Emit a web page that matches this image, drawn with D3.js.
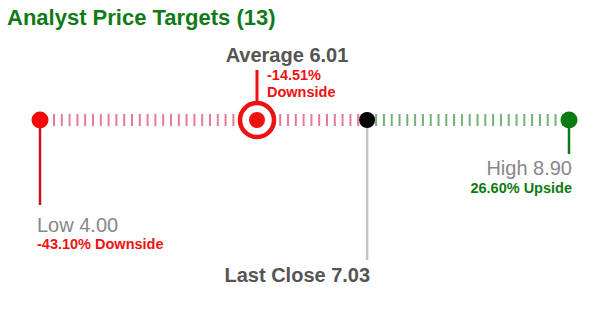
<!DOCTYPE html>
<html>
<head>
<meta charset="utf-8">
<script src="https://cdn.jsdelivr.net/npm/d3@7"></script>
<style>
  body { margin: 0; background: #fff; }
  svg { font-family: "Liberation Sans", Arial, sans-serif; }
</style>
</head>
<body>
<svg width="594" height="316"></svg>
<script>
// price target data
const analystCount = 13;
const targetNames = ["Low", "Average", "High"];
const targetValues = [4.00, 6.01, 8.90];
const targetChange = ["-43.10% Downside", "-14.51% Downside", "26.60% Upside"];
const lastClose = 7.03;

const svg = d3.select("svg");
const lineY = 120;

// x scale spans low -> high target
const x = d3.scaleLinear()
    .domain([targetValues[0], targetValues[2]])
    .range([40, 569]);

const lowX = x(targetValues[0]);
const avgX = x(targetValues[1]);
const highX = x(targetValues[2]);
const closeX = x(lastClose);

// title
svg.append("text")
    .attr("x", 7).attr("y", 25)
    .attr("fill", "#0f7a16")
    .style("font-size", "22px").style("font-weight", "bold")
    .text(`Analyst Price Targets (${analystCount})`);

// dashed tick segments
svg.append("line")
    .attr("x1", lowX + 13).attr("x2", closeX - 6)
    .attr("y1", lineY).attr("y2", lineY)
    .attr("stroke", "#e4587a").attr("stroke-opacity", 0.8)
    .attr("stroke-width", 12)
    .attr("stroke-dasharray", "2,5.8");

svg.append("line")
    .attr("x1", closeX + 8).attr("x2", highX - 4)
    .attr("y1", lineY).attr("y2", lineY)
    .attr("stroke", "#64a868").attr("stroke-opacity", 0.9)
    .attr("stroke-width", 12)
    .attr("stroke-dasharray", "2,5.8");

// low marker
svg.append("line")
    .attr("x1", lowX).attr("x2", lowX)
    .attr("y1", lineY).attr("y2", 205)
    .attr("stroke", "#c8141c").attr("stroke-width", 2.5);
svg.append("circle")
    .attr("cx", lowX).attr("cy", lineY).attr("r", 8.5)
    .attr("fill", "#f20a0a");

// last close marker
svg.append("line")
    .attr("x1", closeX).attr("x2", closeX)
    .attr("y1", lineY).attr("y2", 260)
    .attr("stroke", "#c4c4c4").attr("stroke-width", 2.5);
svg.append("circle")
    .attr("cx", closeX).attr("cy", lineY).attr("r", 8)
    .attr("fill", "#000");

// high marker
svg.append("line")
    .attr("x1", highX).attr("x2", highX)
    .attr("y1", lineY).attr("y2", 154)
    .attr("stroke", "#0e7a12").attr("stroke-width", 2.5);
svg.append("circle")
    .attr("cx", highX).attr("cy", lineY).attr("r", 8.5)
    .attr("fill", "#0e7a12");

// average marker
svg.append("line")
    .attr("x1", avgX).attr("x2", avgX)
    .attr("y1", 70).attr("y2", lineY - 19)
    .attr("stroke", "#ee1111").attr("stroke-width", 3);
svg.append("circle")
    .attr("cx", avgX).attr("cy", lineY).attr("r", 17)
    .attr("fill", "#fff").attr("stroke", "#ee1111").attr("stroke-width", 4.5);
svg.append("circle")
    .attr("cx", avgX).attr("cy", lineY).attr("r", 8)
    .attr("fill", "#ee1111");

// labels
function label(xPos, yPos, txt, anchor, color, size, weight) {
    svg.append("text")
        .attr("x", xPos).attr("y", yPos)
        .attr("text-anchor", anchor)
        .attr("fill", color)
        .style("font-size", size + "px")
        .style("font-weight", weight)
        .text(txt);
}

label(avgX + 30, 62, `${targetNames[1]} ${targetValues[1].toFixed(2)}`, "middle", "#555", 20, "bold");
const avgParts = targetChange[1].split(" ");
label(avgX + 10, 80, avgParts[0], "start", "#ee1111", 14.5, "bold");
label(avgX + 10, 97, avgParts[1], "start", "#ee1111", 14.5, "bold");

label(lowX - 3, 232, `${targetNames[0]} ${targetValues[0].toFixed(2)}`, "start", "#888", 20, "normal");
label(lowX - 3, 249, targetChange[0], "start", "#ee1111", 14.5, "bold");

label(highX + 3, 175, `${targetNames[2]} ${targetValues[2].toFixed(2)}`, "end", "#888", 20, "normal");
label(highX + 3, 193, targetChange[2], "end", "#0e7a12", 14.5, "bold");

label(closeX + 3, 282, `Last Close ${lastClose.toFixed(2)}`, "end", "#555", 20, "bold");
</script>
</body>
</html>
